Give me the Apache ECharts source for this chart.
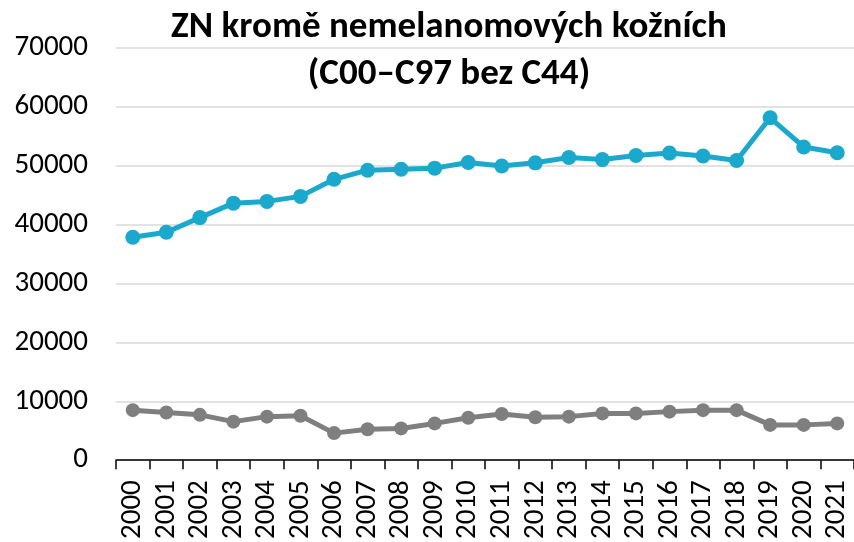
<!DOCTYPE html>
<html>
<head>
<meta charset="utf-8">
<script src="https://cdn.jsdelivr.net/npm/echarts@6/dist/echarts.min.js"></script>
<style>html,body{margin:0;padding:0;background:#fff}#c{width:854px;height:542px}</style>
</head>
<body>
<div id="c"></div>
<script>
const titleText = 'ZN kromě nemelanomových kožních\n(C00–C97 bez C44)';
const years = ['2000','2001','2002','2003','2004','2005','2006','2007','2008','2009','2010','2011','2012','2013','2014','2015','2016','2017','2018','2019','2020','2021'];
const seriesBlue = [37850,38700,41200,43650,43950,44800,47700,49250,49400,49600,50550,49950,50500,51400,51050,51750,52150,51650,50900,58150,53200,52200];
const seriesGray = [8500,8100,7700,6550,7400,7550,4600,5250,5400,6250,7200,7850,7300,7400,7950,7950,8250,8500,8500,6000,6000,6250];
const yTicks = {min:0, max:70000, interval:10000};

const chart = echarts.init(document.getElementById('c'), null, {renderer:'canvas'});
const labelFont = "'Carlito','Liberation Sans',Arial,sans-serif";
chart.setOption({
  animation:false,
  backgroundColor:'#fff',
  title:{
    text:titleText,
    left:444, top:-1, textAlign:'center',
    textStyle:{fontFamily:"'Carlito','Lato',sans-serif", fontWeight:'bold', fontSize:37, lineHeight:47, color:'#000'}
  },
  grid:{left:116, right:0, top:48, bottom:80, containLabel:false},
  xAxis:{
    type:'category', data:years, boundaryGap:true,
    axisLine:{lineStyle:{color:'#000', width:1.5}},
    axisTick:{show:true, length:9, lineStyle:{color:'#000', width:1.5}},
    axisLabel:{rotate:90, interval:0, fontSize:29, color:'#000', margin:20, fontFamily:labelFont},
    splitLine:{show:false}
  },
  yAxis:{
    type:'value', min:yTicks.min, max:yTicks.max, interval:yTicks.interval,
    axisLine:{show:false}, axisTick:{show:false},
    axisLabel:{fontSize:29, color:'#000', margin:28, fontFamily:labelFont, formatter:function(v){return String(v);}},
    splitLine:{lineStyle:{color:'#d9d9d9', width:1.5}}
  },
  series:[
    {type:'line', data:seriesBlue, symbol:'circle', symbolSize:15,
     lineStyle:{width:5, color:'#1aa9cc'}, itemStyle:{color:'#1aa9cc'}},
    {type:'line', data:seriesGray, symbol:'circle', symbolSize:14,
     lineStyle:{width:5, color:'#7f7f7f'}, itemStyle:{color:'#7f7f7f'}}
  ]
});
</script>
</body>
</html>
